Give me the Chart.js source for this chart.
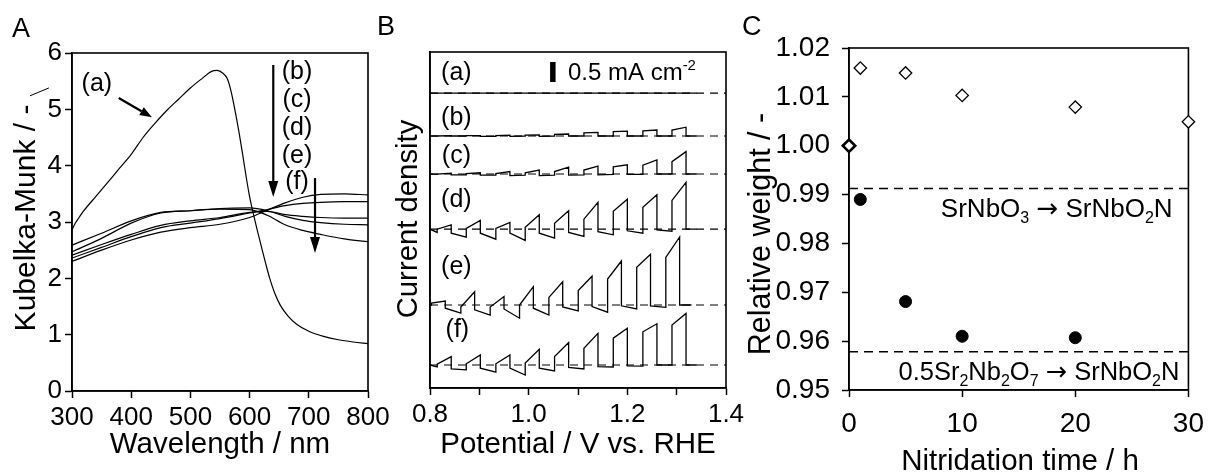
<!DOCTYPE html>
<html>
<head>
<meta charset="utf-8">
<script src="https://cdn.jsdelivr.net/npm/chart.js@4.4.1/dist/chart.umd.min.js"></script>
<style>
  html, body { margin: 0; padding: 0; background: #fff; }
  #wrap { position: relative; width: 1214px; height: 472px; overflow: hidden; }
  #wrap canvas { position: absolute; left: 0; top: 0; }
</style>
</head>
<body>
<div id="wrap">
  <canvas id="panel-a" width="1214" height="472"></canvas>
  <canvas id="panel-b" width="1214" height="472"></canvas>
  <canvas id="panel-c" width="1214" height="472"></canvas>
</div>
<script>
const FONT = "'Liberation Sans', Arial, Helvetica, sans-serif"
const ARROW_FONT = "'DejaVu Sans', sans-serif"
const INK = "#000"

// A - Kubelka-Munk spectra, (a) is the precursor
const WL_A = [300, 305, 310, 320, 340, 360, 380, 400, 420, 440, 460, 480, 500, 520, 535, 545, 555, 562, 568, 575,
  582, 589, 595, 600, 606, 613, 620, 627, 634, 642, 652, 665, 680, 700, 725, 750, 775, 800]
const KM_A = [2.86, 2.97, 3.05, 3.2, 3.45, 3.7, 3.95, 4.2, 4.5, 4.75, 4.98, 5.18, 5.38, 5.55, 5.67, 5.69, 5.64, 5.55, 5.35, 5.0,
  4.6, 4.15, 3.75, 3.45, 3.16, 2.85, 2.56, 2.27, 2.0, 1.75, 1.52, 1.33, 1.18, 1.06, 0.97, 0.91, 0.87, 0.84]
const WL_N = [300, 350, 400, 450, 500, 550, 600, 630, 660, 690, 720, 760, 800]
const KM_1 = [2.30, 2.50, 2.68, 2.82, 2.90, 2.96, 3.08, 3.21, 3.34, 3.44, 3.49, 3.50, 3.48]
const KM_2 = [2.36, 2.55, 2.74, 2.90, 2.98, 3.06, 3.16, 3.22, 3.29, 3.33, 3.35, 3.36, 3.36]
const KM_3 = [2.41, 2.60, 2.78, 2.94, 3.02, 3.08, 3.17, 3.19, 3.13, 3.10, 3.08, 3.07, 3.07]
const KM_4 = [2.59, 2.80, 3.02, 3.17, 3.20, 3.24, 3.25, 3.20, 3.10, 3.03, 2.99, 2.96, 2.95]
const KM_5 = [2.47, 2.71, 2.98, 3.16, 3.20, 3.23, 3.22, 3.12, 2.95, 2.85, 2.78, 2.70, 2.65]

// B - chopped-light current, mA cm-2 relative to each baseline
const B_START = 0.8
const B_END = 1.34
const E_END = 1.33
const B_LABELED = [0.8, 1.0, 1.2, 1.4]
const BASE = [7.37, 6.30, 5.35, 3.97, 2.075, 0.575] // (a)..(f)
const ON_V = [0.8145, 0.8735, 0.9335, 0.993, 1.0525, 1.112, 1.1715, 1.2315, 1.2905]
const OFF_V = [0.843, 0.902, 0.962, 1.0215, 1.081, 1.1405, 1.200, 1.260, 1.319]
const ON_V_E = [0.803, 0.8625, 0.922, 0.9815, 1.041, 1.1005, 1.160, 1.219, 1.278]
const OFF_V_E = [0.831, 0.8905, 0.950, 1.0095, 1.069, 1.1285, 1.188, 1.247, 1.306]

const B_PRE = [0.00, 0.00, -0.01, 0.00, 0.00, 0.00, 0.00, 0.00, 0.00]
const B_ON = [0.00, 0.01, 0.01, 0.02, 0.04, 0.08, 0.11, 0.13, 0.15]
const B_PEAK = [0.01, 0.01, 0.02, 0.03, 0.05, 0.09, 0.12, 0.15, 0.22]
const B_POST = [0.00, -0.01, -0.01, -0.01, 0.00, 0.00, 0.00, 0.00, 0.00]

const C_PRE = [-0.01, -0.02, -0.03, -0.03, -0.03, -0.02, -0.01, -0.01, 0.00]
const C_ON = [0.00, 0.01, 0.01, 0.03, 0.06, 0.10, 0.18, 0.22, 0.31]
const C_PEAK = [0.02, 0.03, 0.06, 0.10, 0.17, 0.20, 0.23, 0.35, 0.56]
const C_POST = [-0.02, -0.03, -0.04, -0.04, -0.03, -0.02, -0.01, 0.00, 0.00]

const D_PRE = [-0.08, -0.20, -0.25, -0.28, -0.22, -0.18, -0.14, -0.10, -0.05]
const D_ON = [0.00, 0.02, 0.02, 0.05, 0.15, 0.25, 0.45, 0.55, 0.72]
const D_PEAK = [0.11, 0.22, 0.17, 0.36, 0.46, 0.67, 0.75, 0.86, 1.17]
const D_POST = [-0.10, -0.10, -0.10, -0.10, -0.08, -0.06, -0.04, -0.02, 0.00]

const E_PRE = [0.00, -0.20, -0.25, -0.33, -0.25, -0.15, -0.18, -0.10, -0.06]
const E_ON = [0.05, -0.05, -0.05, 0.00, 0.19, 0.36, 0.65, 0.94, 1.19]
const E_PEAK = [0.10, 0.33, 0.21, 0.46, 0.58, 0.72, 1.10, 1.27, 1.70]
const E_POST = [-0.08, -0.12, -0.10, -0.08, -0.05, -0.04, -0.02, -0.02, 0.00]

const F_PRE = [-0.05, -0.12, -0.18, -0.25, -0.15, -0.10, -0.05, -0.03, 0.00]
const F_ON = [0.02, 0.03, 0.03, 0.05, 0.21, 0.42, 0.67, 0.83, 1.00]
const F_PEAK = [0.21, 0.25, 0.25, 0.39, 0.56, 0.79, 0.92, 1.03, 1.29]
const F_POST = [-0.10, -0.08, -0.08, -0.08, -0.06, -0.04, -0.02, 0.00, 0.00]

const SCALE_BAR_V = 1.049
const SCALE_BAR_FROM = 7.65
const SCALE_BAR_LEN = 0.5

// C - relative weight vs nitridation time
const HOURS_OPEN = [0, 1, 5, 10, 20, 30]
const WEIGHT_OPEN = [1.000, 1.0159, 1.0149, 1.0103, 1.0079, 1.0049]
const HOURS_FILLED = [1, 5, 10, 20]
const WEIGHT_FILLED = [0.9890, 0.9681, 0.9610, 0.9607]
const REF_LINES = [0.99125, 0.95783]

function points(xs, ys) {
  return xs.map((x, i) => ({ x, y: ys[i] }))
}

function chop(base, onV, offV, pre, on, peak, post, end) {
  const pts = [{ x: B_START, y: base }]
  onV.forEach((v, i) => {
    pts.push(
      { x: v, y: base + pre[i] },
      { x: v, y: base + on[i] },
      { x: offV[i], y: base + peak[i] },
      { x: offV[i], y: base + post[i] },
    )
  })
  pts.push({ x: end, y: base })
  return pts
}

function line(data, extra = {}) {
  return {
    data,
    showLine: true,
    borderColor: INK,
    borderWidth: 1.2,
    pointRadius: 0,
    fill: false,
    ...extra,
  }
}

function axis({ min, max, step, box, horizontal, size = 26, pad = 3, labels = true, ticks = true, fmt }) {
  const tickOpts = {
    display: labels,
    stepSize: step,
    autoSkip: false,
    maxRotation: 0,
    padding: pad,
    color: INK,
    font: { family: FONT, size },
  }
  if (fmt) tickOpts.callback = fmt
  return {
    type: "linear",
    min,
    max,
    afterFit: horizontal ? (s) => { s.height = box } : (s) => { s.width = box },
    ticks: tickOpts,
    grid: ticks
      ? { drawOnChartArea: false, drawTicks: true, tickLength: 7, tickWidth: 1.5, tickColor: INK, color: INK }
      : { display: false },
    border: { display: true, color: INK, width: 1.6 },
  }
}

function baseOptions(padding) {
  return {
    responsive: false,
    animation: false,
    events: [],
    layout: { padding, autoPadding: false },
    plugins: { legend: { display: false }, tooltip: { enabled: false } },
  }
}

function partFont(p, size) {
  if (p.arrow) return `${size}px ${ARROW_FONT}`
  return p.shift ? `${Math.round(size * 0.62)}px ${FONT}` : `${size}px ${FONT}`
}

function drawRich(ctx, parts, x, y, size, align) {
  const widths = parts.map((p) => {
    ctx.font = partFont(p, size)
    return ctx.measureText(p.t).width
  })
  const total = widths.reduce((s, w) => s + w, 0)
  let cx = align === "right" ? x - total : align === "center" ? x - total / 2 : x
  ctx.textAlign = "left"
  ctx.textBaseline = "alphabetic"
  parts.forEach((p, i) => {
    ctx.font = partFont(p, size)
    const dy = p.shift === "sub" ? size * 0.23 : p.shift === "sup" ? -size * 0.4 : 0
    ctx.fillText(p.t, cx, y + dy)
    cx += widths[i]
  })
}

function drawArrow(ctx, x1, y1, x2, y2, w, headLen, headW) {
  const ang = Math.atan2(y2 - y1, x2 - x1)
  const bx = x2 - headLen * Math.cos(ang)
  const by = y2 - headLen * Math.sin(ang)
  ctx.lineWidth = w
  ctx.beginPath()
  ctx.moveTo(x1, y1)
  ctx.lineTo(bx, by)
  ctx.stroke()
  ctx.beginPath()
  ctx.moveTo(x2, y2)
  ctx.lineTo(bx + (headW / 2) * Math.sin(ang), by - (headW / 2) * Math.cos(ang))
  ctx.lineTo(bx - (headW / 2) * Math.sin(ang), by + (headW / 2) * Math.cos(ang))
  ctx.closePath()
  ctx.fill()
}

// frame round the plot plus titles and notes; notes sit in data units, titles in page pixels
function decorations(items) {
  return {
    id: "decorations",
    beforeDatasetsDraw(chart) {
      const { ctx, chartArea: a } = chart
      ctx.save()
      ctx.strokeStyle = INK
      ctx.lineWidth = 1.6
      ctx.strokeRect(a.left, a.top, a.right - a.left, a.bottom - a.top)
      ctx.restore()
    },
    afterDraw(chart) {
      const { ctx, scales } = chart
      const px = (v) => scales.x.getPixelForValue(v)
      const py = (v) => scales.y.getPixelForValue(v)
      ctx.save()
      ctx.fillStyle = INK
      ctx.strokeStyle = INK
      for (const it of items) {
        if (it.kind === "text") {
          drawRich(ctx, it.parts, px(it.x), py(it.y), it.size, it.align)
        } else if (it.kind === "arrow") {
          drawArrow(ctx, px(it.x1), py(it.y1), px(it.x2), py(it.y2), it.w, it.head, it.headW)
        } else if (it.kind === "stroke") {
          ctx.lineWidth = it.w
          ctx.beginPath()
          ctx.moveTo(px(it.x1), py(it.y1))
          ctx.lineTo(px(it.x2), py(it.y2))
          ctx.stroke()
        } else if (it.kind === "title") {
          ctx.save()
          ctx.translate(it.px, it.py)
          if (it.rotate) ctx.rotate(-Math.PI / 2)
          ctx.font = `${it.size}px ${FONT}`
          ctx.textAlign = it.align || "center"
          ctx.textBaseline = "alphabetic"
          ctx.fillText(it.text, 0, 0)
          ctx.restore()
        }
      }
      ctx.restore()
    },
  }
}

const paren = (t) => [{ t }]

// ---------- panel A ----------
new Chart(document.getElementById("panel-a"), {
  type: "scatter",
  data: {
    datasets: [
      line(points(WL_A, KM_A), { cubicInterpolationMode: "monotone" }),
      line(points(WL_N, KM_1), { cubicInterpolationMode: "monotone" }),
      line(points(WL_N, KM_2), { cubicInterpolationMode: "monotone" }),
      line(points(WL_N, KM_3), { cubicInterpolationMode: "monotone" }),
      line(points(WL_N, KM_4), { cubicInterpolationMode: "monotone" }),
      line(points(WL_N, KM_5), { cubicInterpolationMode: "monotone" }),
    ],
  },
  options: {
    ...baseOptions({ left: 12, top: 53, right: 846, bottom: 21 }),
    scales: {
      x: axis({ min: 300, max: 800, step: 100, box: 60, horizontal: true, pad: 4 }),
      y: axis({ min: 0, max: 6, step: 1, box: 60 }),
    },
  },
  plugins: [
    decorations([
      { kind: "title", text: "A", px: 12, py: 37, size: 27, align: "left" },
      { kind: "title", text: "Wavelength / nm", px: 220, py: 453, size: 29.5 },
      { kind: "title", text: "Kubelka-Munk / -", px: 35, py: 218, size: 30, rotate: true },
      { kind: "text", parts: paren("(a)"), x: 342, y: 5.317, size: 25, align: "center" },
      { kind: "text", parts: paren("(b)"), x: 680, y: 5.53, size: 25, align: "center" },
      { kind: "text", parts: paren("(c)"), x: 680, y: 5.033, size: 25, align: "center" },
      { kind: "text", parts: paren("(d)"), x: 680, y: 4.536, size: 25, align: "center" },
      { kind: "text", parts: paren("(e)"), x: 680, y: 4.056, size: 25, align: "center" },
      { kind: "text", parts: paren("(f)"), x: 680, y: 3.577, size: 25, align: "center" },
      { kind: "arrow", x1: 379, y1: 5.2, x2: 435, y2: 4.86, w: 2.2, head: 12, headW: 9 },
      { kind: "arrow", x1: 640, y1: 5.787, x2: 640, y2: 3.444, w: 2.2, head: 16, headW: 10 },
      { kind: "arrow", x1: 710.5, y1: 3.78, x2: 710.5, y2: 2.45, w: 2.2, head: 16, headW: 10 },
      { kind: "stroke", x1: 229, y1: 5.24, x2: 261, y2: 5.38, w: 1 },
    ]),
  ],
})

// ---------- panel B ----------
const baselineDs = BASE.map((b) =>
  line([{ x: 0.8, y: b }, { x: 1.4, y: b }], { borderDash: [8, 6], borderWidth: 1.2, order: 3 }),
)
const traceOpts = { borderWidth: 1.3, order: 1 }

new Chart(document.getElementById("panel-b"), {
  type: "scatter",
  data: {
    datasets: [
      line([{ x: B_START, y: BASE[0] }, { x: B_END, y: BASE[0] }], traceOpts),
      line(chop(BASE[1], ON_V, OFF_V, B_PRE, B_ON, B_PEAK, B_POST, B_END), traceOpts),
      line(chop(BASE[2], ON_V, OFF_V, C_PRE, C_ON, C_PEAK, C_POST, B_END), traceOpts),
      line(chop(BASE[3], ON_V, OFF_V, D_PRE, D_ON, D_PEAK, D_POST, B_END), traceOpts),
      line(chop(BASE[4], ON_V_E, OFF_V_E, E_PRE, E_ON, E_PEAK, E_POST, E_END), traceOpts),
      line(chop(BASE[5], ON_V, OFF_V, F_PRE, F_ON, F_PEAK, F_POST, B_END), traceOpts),
      line(
        [{ x: SCALE_BAR_V, y: SCALE_BAR_FROM }, { x: SCALE_BAR_V, y: SCALE_BAR_FROM + SCALE_BAR_LEN }],
        { borderWidth: 5.5, borderCapStyle: "butt", order: 0 },
      ),
      ...baselineDs,
    ],
  },
  options: {
    ...baseOptions({ left: 410, top: 52, right: 488, bottom: 24 }),
    scales: {
      x: axis({
        min: 0.8, max: 1.4, step: 0.1, box: 60, horizontal: true, pad: 4,
        fmt: (v) => (B_LABELED.some((t) => Math.abs(t - v) < 1e-6) ? v.toFixed(1) : ""),
      }),
      y: axis({ min: 0, max: 8.4, step: 1, box: 20, labels: false, ticks: false }),
    },
  },
  plugins: [
    decorations([
      { kind: "title", text: "B", px: 377, py: 35, size: 27, align: "left" },
      { kind: "title", text: "Potential / V vs. RHE", px: 578, py: 453, size: 29.5 },
      { kind: "title", text: "Current density", px: 417, py: 219, size: 29.3, rotate: true },
      { kind: "text", parts: paren("(a)"), x: 0.8535, y: 7.7125, size: 25, align: "center" },
      { kind: "text", parts: paren("(b)"), x: 0.8535, y: 6.5875, size: 25, align: "center" },
      { kind: "text", parts: paren("(c)"), x: 0.8535, y: 5.6375, size: 25, align: "center" },
      { kind: "text", parts: paren("(d)"), x: 0.8535, y: 4.5375, size: 25, align: "center" },
      { kind: "text", parts: paren("(e)"), x: 0.8535, y: 2.8625, size: 25, align: "center" },
      { kind: "text", parts: paren("(f)"), x: 0.8555, y: 1.2875, size: 25, align: "center" },
      { kind: "text", parts: [{ t: "0.5 mA cm" }, { t: "-2", shift: "sup" }], x: 1.0796, y: 7.7, size: 24, align: "left" },
    ]),
  ],
})

// ---------- panel C ----------
new Chart(document.getElementById("panel-c"), {
  type: "scatter",
  data: {
    datasets: [
      {
        data: points(HOURS_OPEN, WEIGHT_OPEN),
        pointStyle: "rectRot",
        pointRadius: 6.2,
        pointBackgroundColor: "#fff",
        pointBorderColor: INK,
        pointBorderWidth: (c) => (c.dataIndex === 0 ? 2.6 : 1.3),
        clip: false,
        order: 0,
      },
      {
        data: points(HOURS_FILLED, WEIGHT_FILLED),
        pointStyle: "circle",
        pointRadius: 6,
        pointBackgroundColor: INK,
        pointBorderColor: INK,
        pointBorderWidth: 1,
        clip: false,
        order: 1,
      },
      ...REF_LINES.map((v) =>
        line([{ x: 0, y: v }, { x: 30, y: v }], { borderDash: [9, 6], borderWidth: 1.6, order: 2 }),
      ),
    ],
  },
  options: {
    ...baseOptions({ left: 769, top: 48, right: 23, bottom: 22 }),
    scales: {
      x: axis({ min: 0, max: 30, step: 10, box: 60, horizontal: true, pad: 10, size: 28 }),
      y: axis({ min: 0.95, max: 1.02, step: 0.01, box: 80, pad: 12, size: 28, fmt: (v) => v.toFixed(2) }),
    },
  },
  plugins: [
    decorations([
      { kind: "title", text: "C", px: 742, py: 35, size: 27, align: "left" },
      { kind: "title", text: "Nitridation time / h", px: 1020, py: 470, size: 29.5 },
      { kind: "title", text: "Relative weight / -", px: 770, py: 234, size: 30.5, rotate: true },
      {
        kind: "text",
        parts: [
          { t: "SrNbO" }, { t: "3", shift: "sub" }, { t: " " }, { t: "\u2192", arrow: true }, { t: " SrNbO" },
          { t: "2", shift: "sub" }, { t: "N" },
        ],
        x: 28.6, y: 0.98544, size: 26, align: "right",
      },
      {
        kind: "text",
        parts: [
          { t: "0.5Sr" }, { t: "2", shift: "sub" }, { t: "Nb" }, { t: "2", shift: "sub" }, { t: "O" }, { t: "7", shift: "sub" },
          { t: " " }, { t: "\u2192", arrow: true }, { t: " SrNbO" }, { t: "2", shift: "sub" }, { t: "N" },
        ],
        x: 29.2, y: 0.95205, size: 25.5, align: "right",
      },
    ]),
  ],
})
</script>
</body>
</html>
